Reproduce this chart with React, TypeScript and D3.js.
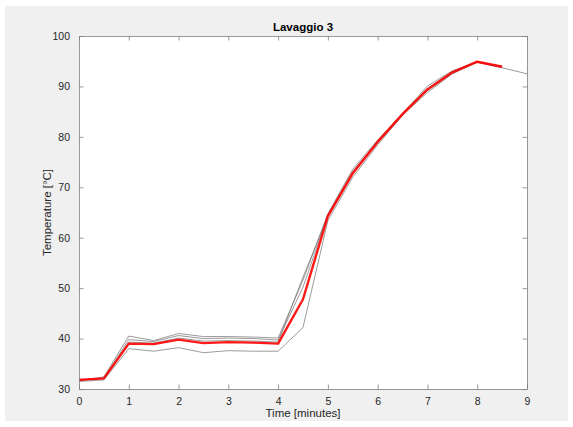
import { useEffect, useRef } from 'react'
import * as d3 from 'd3'

const times = [0, 0.5, 1, 1.5, 2, 2.5, 3, 3.5, 4, 4.5, 5, 5.5, 6, 6.5, 7, 7.5, 8, 8.5, 9]

// single runs (grey)
const run1 = [31.6, 32.4, 40.5, 39.6, 41.0, 40.4, 40.4, 40.3, 40.1, 51.6, 64.8, 73.6, 79.4, 84.6, 90.1, 93.1, 94.8, 93.7, 92.5]
const run2 = [31.7, 32.2, 39.8, 39.4, 40.6, 40.0, 40.1, 40.0, 39.7, 50.2, 64.5, 73.2, 79.1, 84.7, 89.6, 92.9, 94.9, 93.9]
const run3 = [31.9, 32.0, 39.3, 39.1, 40.1, 39.5, 39.6, 39.5, 39.3, 52.2, 64.2, 72.9, 78.9, 84.4, 89.2, 92.6, 94.9, 94.0]
const run4 = [31.5, 31.8, 38.0, 37.5, 38.2, 37.2, 37.6, 37.5, 37.5, 42.2, 63.4, 72.0, 78.4, 84.3, 88.8, 92.5, 94.8, 93.8]
const runs = [run1, run2, run3, run4]

// mean (red)
const mean = [31.8, 32.1, 39.0, 38.9, 39.8, 39.1, 39.3, 39.2, 39.0, 47.8, 64.3, 72.8, 79.0, 84.5, 89.4, 92.8, 94.9, 93.9]

const xTicks = [0, 1, 2, 3, 4, 5, 6, 7, 8, 9]
const yTicks = [30, 40, 50, 60, 70, 80, 90, 100]

export default function App() {
  const svgRef = useRef<SVGSVGElement>(null)

  useEffect(() => {
    if (!svgRef.current) return
    const svg = d3.select(svgRef.current)
    svg.selectAll('*').remove()

    const width = 573
    const height = 427
    const margin = { top: 36, right: 46, bottom: 38, left: 79 }
    const font = 'Liberation Sans, Arial, Helvetica, sans-serif'

    // figure background
    svg.append('rect').attr('width', width).attr('height', height).attr('fill', '#ffffff')
    svg.append('rect')
      .attr('x', 5).attr('y', 6)
      .attr('width', 563).attr('height', 415)
      .attr('fill', '#f0f0f0')

    const xScale = d3.scaleLinear()
      .domain([0, 9])
      .range([margin.left, width - margin.right])

    const yScale = d3.scaleLinear()
      .domain([30, 100])
      .range([height - margin.bottom, margin.top])

    // plot area
    svg.append('rect')
      .attr('x', margin.left).attr('y', margin.top)
      .attr('width', width - margin.left - margin.right)
      .attr('height', height - margin.top - margin.bottom)
      .attr('fill', '#ffffff')

    const line = d3.line<number>()
      .x((_, i) => xScale(times[i]))
      .y(d => yScale(d))

    // grey runs
    runs.forEach(run => {
      svg.append('path')
        .datum(run)
        .attr('fill', 'none')
        .attr('stroke', '#7a7a7a')
        .attr('stroke-opacity', 0.75)
        .attr('stroke-width', 1)
        .attr('d', line)
    })

    // red mean
    svg.append('path')
      .datum(mean)
      .attr('fill', 'none')
      .attr('stroke', '#ff0000')
      .attr('stroke-opacity', 0.9)
      .attr('stroke-width', 2.4)
      .attr('stroke-linejoin', 'round')
      .attr('d', line)

    // axes with inward ticks on all sides
    const axisColor = '#7f7f7f'
    const tickLen = 4.5
    const styleAxis = (g: d3.Selection<SVGGElement, unknown, null, undefined>) => {
      g.select('.domain').attr('stroke', axisColor).attr('stroke-width', 0.8)
      g.selectAll('.tick line').attr('stroke', axisColor).attr('stroke-width', 0.8)
      g.selectAll('.tick text')
        .attr('fill', '#262626')
        .style('font-family', font)
        .style('font-size', '10.5px')
    }

    svg.append('g')
      .attr('transform', `translate(0, ${height - margin.bottom})`)
      .call(d3.axisBottom(xScale).tickValues(xTicks).tickSizeInner(-tickLen).tickSizeOuter(0).tickPadding(9))
      .call(styleAxis)

    svg.append('g')
      .attr('transform', `translate(0, ${margin.top})`)
      .call(d3.axisTop(xScale).tickValues(xTicks).tickSizeInner(-tickLen).tickSizeOuter(0).tickFormat(() => ''))
      .call(styleAxis)

    svg.append('g')
      .attr('transform', `translate(${margin.left}, 0)`)
      .call(d3.axisLeft(yScale).tickValues(yTicks).tickSizeInner(-tickLen).tickSizeOuter(0).tickPadding(9))
      .call(styleAxis)

    svg.append('g')
      .attr('transform', `translate(${width - margin.right}, 0)`)
      .call(d3.axisRight(yScale).tickValues(yTicks).tickSizeInner(-tickLen).tickSizeOuter(0).tickFormat(() => ''))
      .call(styleAxis)

    // title and labels
    svg.append('text')
      .attr('x', (margin.left + width - margin.right) / 2)
      .attr('y', 31)
      .attr('text-anchor', 'middle')
      .style('font-family', font)
      .style('font-size', '11.5px')
      .style('font-weight', 'bold')
      .attr('fill', '#000000')
      .text('Lavaggio 3')

    svg.append('text')
      .attr('x', (margin.left + width - margin.right) / 2)
      .attr('y', 417)
      .attr('text-anchor', 'middle')
      .style('font-family', font)
      .style('font-size', '11.5px')
      .attr('fill', '#262626')
      .text('Time [minutes]')

    svg.append('text')
      .attr('transform', `translate(51, ${(margin.top + height - margin.bottom) / 2}) rotate(-90)`)
      .attr('text-anchor', 'middle')
      .style('font-family', font)
      .style('font-size', '11.5px')
      .attr('fill', '#262626')
      .text('Temperature [°C]')
  }, [])

  return (
    <svg
      ref={svgRef}
      width={573}
      height={427}
      style={{ position: 'absolute', left: 0, top: 0, display: 'block' }}
    />
  )
}
